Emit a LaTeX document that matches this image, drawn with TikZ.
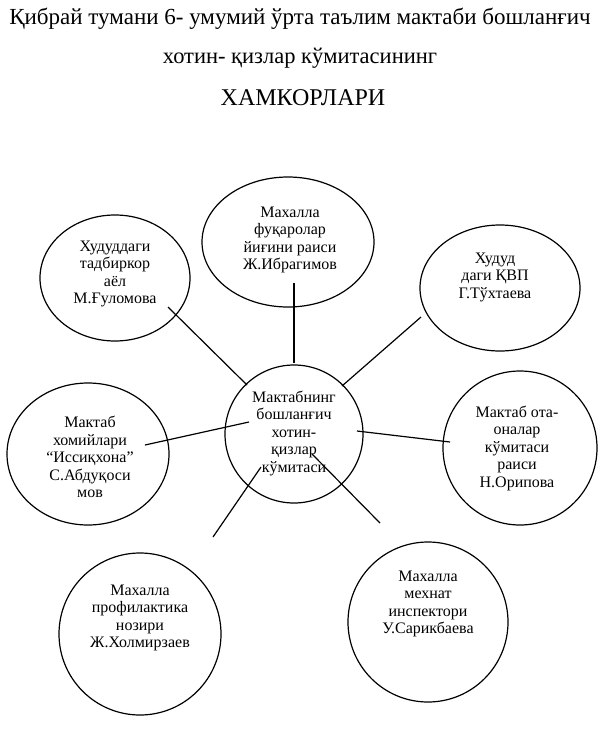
\documentclass[tikz,border=0pt]{standalone}
\usepackage{fontspec}
\setmainfont{Liberation Serif}
\usetikzlibrary{shapes.geometric}
\tikzset{
  bubble/.style={draw, ellipse, inner sep=0pt},
  txt/.style={align=center, inner sep=0pt, font=\fontsize{16}{17.5}\selectfont},
  head/.style={anchor=base, inner sep=0pt, font=\fontsize{22.5}{27}\selectfont},
}
\begin{document}
\begin{tikzpicture}[x=1pt, y=-1pt, line width=1.2pt]
  \useasboundingbox (0,0) rectangle (600,753);
  % title
  \node[head, font=\fontsize{23}{27}\selectfont] (t1) at (300,24) {Қибрай тумани 6- умумий ўрта таълим мактаби бошланғич};
  \node[head] (t2) at (300,63) {хотин- қизлар кўмитасининг};
  \node[head, font=\fontsize{24}{28}\selectfont] (t3) at (303,105) {ХАМКОРЛАРИ};
  % circles
  \node[bubble, minimum width=150pt, minimum height=126pt] (tl) at (115,278) {};
  \node[bubble, minimum width=172pt, minimum height=130pt] (top) at (288,242) {};
  \node[bubble, minimum width=160pt, minimum height=126pt] (tr) at (500,288) {};
  \node[bubble, minimum width=138pt, minimum height=138pt] (hub) at (294,434) {};
  \node[bubble, minimum width=162pt, minimum height=142pt] (lf) at (88,454) {};
  \node[bubble, minimum width=154pt, minimum height=154pt] (rt) at (520,448) {};
  \node[bubble, minimum width=162pt, minimum height=162pt] (bl) at (140,634) {};
  \node[bubble, minimum width=160pt, minimum height=160pt] (br) at (428,622) {};
  % texts
  \node[txt] (tl-t) at ([shift={(0,-4)}]tl.center) {Худуддаги\\тадбиркор\\аёл\\М.Ғуломова};
  \node[txt] (top-t) at ([shift={(2,-2)}]top.center) {Махалла\\фуқаролар\\йиғини раиси\\Ж.Ибрагимов};
  \node[txt] (tr-t) at ([shift={(-5,-11)}]tr.center) {Худуд\\даги ҚВП\\Г.Тўхтаева};
  \node[txt] (hub-t) at ([shift={(0,-1)}]hub.center) {Мактабнинг\\бошланғич\\хотин-\\қизлар\\кўмитаси};
  \node[txt] (lf-t) at ([shift={(2,3)}]lf.center) {Мактаб\\хомийлари\\“Иссиқхона”\\С.Абдуқоси\\мов};
  \node[txt] (rt-t) at ([shift={(-3,0)}]rt.center) {Мактаб ота-\\оналар\\кўмитаси\\раиси\\Н.Орипова};
  \node[txt] (bl-t) at ([shift={(0,-16)}]bl.center) {Махалла\\профилактика\\нозири\\Ж.Холмирзаев};
  \node[txt] (br-t) at ([shift={(0,-18)}]br.center) {Махалла\\мехнат\\инспектори\\У.Сарикбаева};
  % spokes
  \foreach \n/\a/\b/\c/\d in {tl/-47/-49/53/29, top/0/-71/6/41, tr/48/-48/-79/29,
      lf/-45/-12/57/-9, rt/63/-3/-70/-6, bl/-33/33/73/-97, br/18/20/-48/-99}
    \draw ([shift={(\a,\b)}]hub.center) -- ([shift={(\c,\d)}]\n.center);
\end{tikzpicture}
\end{document}
